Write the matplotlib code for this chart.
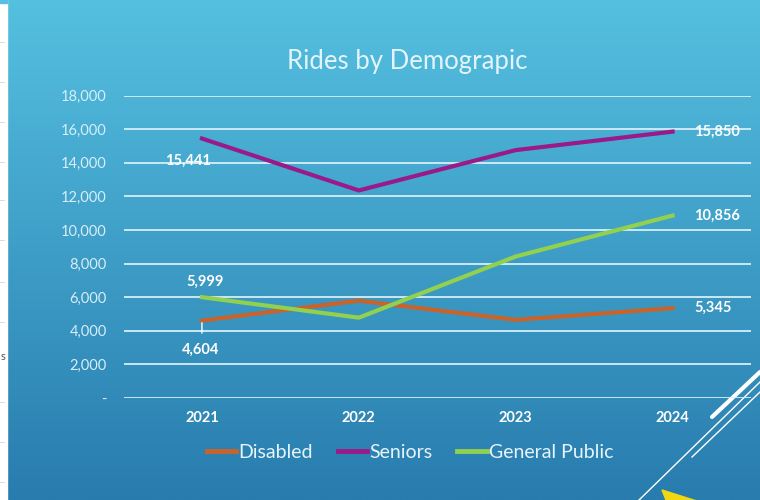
import numpy as np
import matplotlib
matplotlib.use("Agg")
import matplotlib.pyplot as plt
from matplotlib.patches import Polygon, Rectangle

years = ["2021", "2022", "2023", "2024"]
disabled = [4604, 5790, 4650, 5345]
seniors = [15441, 12350, 14750, 15850]
general_public = [5999, 4780, 8420, 10856]
yticks = [0, 2000, 4000, 6000, 8000, 10000, 12000, 14000, 16000, 18000]
ytick_labels = ["-", "2,000", "4,000", "6,000", "8,000", "10,000", "12,000", "14,000", "16,000", "18,000"]
title = "Rides by Demograpic"

plt.rcParams["font.family"] = ["Lato", "DejaVu Sans"]

W, H = 760, 500
fig = plt.figure(figsize=(W / 100, H / 100), dpi=100)

# background gradient
bg = fig.add_axes([0, 0, 1, 1])
top = np.array([0x55, 0xc0, 0xe0]) / 255
bot = np.array([0x28, 0x7c, 0xae]) / 255
t = np.linspace(0, 1, 256)[:, None]
grad = top[None, :] * (1 - t) + bot[None, :] * t
bg.imshow(grad[:, None, :].repeat(2, axis=1), aspect="auto", extent=[0, W, H, 0])
bg.set_xlim(0, W)
bg.set_ylim(H, 0)
bg.axis("off")
# white strip on the left (neighbouring slide)
bg.add_patch(Rectangle((0, 0), 7, H, color="white", zorder=2))
for yy in [42, 82, 122, 162, 200, 240, 282, 322, 402, 442, 482]:
    bg.plot([0, 4], [yy, yy], color="#d5d5d5", lw=0.6, zorder=3)
bg.add_patch(Rectangle((0, 0), 7, 3, color="#55c0e0", zorder=3))
bg.text(0.5, 356, "s", fontsize=8, color="#555555", ha="left", va="center", zorder=4)
# decorative lines bottom right
bg.plot([712, 760], [417, 372], color="white", lw=3, solid_capstyle="round", zorder=3)
bg.plot([692, 760], [457, 392], color="white", lw=1, zorder=3)
bg.plot([637, 760], [502, 382], color="white", lw=1, zorder=3)
bg.add_patch(Polygon([[662, 490], [700, 502], [668, 505]], color="#f2d80f", zorder=3))

# chart axes: x from 123.5 to 751, y from 398 (0) to 96 (18000)
left, right = 123.5, 751
y0, y18 = 398, 95.5
ax = fig.add_axes([left / W, 1 - y0 / H, (right - left) / W, (y0 - y18) / H])
ax.set_facecolor("none")
x = np.arange(len(years))
ax.set_xlim(-0.5, len(years) - 0.5)
ax.set_ylim(0, 18000)
for v in yticks:
    ax.axhline(v, color="#d6eef9", lw=1.3, zorder=1)
ax.plot(x, disabled, color="#c8632b", lw=3, label="Disabled", zorder=3)
ax.plot(x, seniors, color="#9a1a8a", lw=3, label="Seniors", zorder=3)
ax.plot(x, general_public, color="#92d050", lw=3, label="General Public", zorder=3)
for s in ax.spines.values():
    s.set_visible(False)
ax.set_yticks(yticks)
ax.set_yticklabels(ytick_labels, fontsize=10.5, color="#d6eef8")
ax.set_xticks(x)
ax.set_xticklabels(years, fontsize=10.5, color="white", fontweight="bold")
ax.tick_params(length=0)
ax.tick_params(axis="y", pad=12)
ax.tick_params(axis="x", pad=9)

def fmt(v):
    return f"{v:,}"

lab = dict(color="white", fontsize=10.5, fontweight="bold", zorder=4)
ax.annotate(fmt(seniors[0]), (0, seniors[0]), xytext=(-10, -16), textcoords="offset points", ha="center", va="center", **lab)
ax.annotate(fmt(general_public[0]), (0, general_public[0]), xytext=(2, 11), textcoords="offset points", ha="center", va="center", **lab)
ax.annotate(fmt(disabled[0]), (0, disabled[0]), xytext=(-1, -21), textcoords="offset points", ha="center", va="center", **lab)
ax.annotate("", (0, disabled[0]), xytext=(0, -9), textcoords="offset points",
            arrowprops=dict(arrowstyle="-", color="white", lw=1, shrinkA=0, shrinkB=1.5), zorder=4)
ax.annotate(fmt(seniors[3]), (3, seniors[3]), xytext=(32, 0), textcoords="offset points", ha="center", va="center", **lab)
ax.annotate(fmt(general_public[3]), (3, general_public[3]), xytext=(32, 0), textcoords="offset points", ha="center", va="center", **lab)
ax.annotate(fmt(disabled[3]), (3, disabled[3]), xytext=(29, 0), textcoords="offset points", ha="center", va="center", **lab)

leg = fig.legend(loc="center", bbox_to_anchor=(410 / W, 1 - 452 / H), ncol=3, frameon=False,
                 prop=dict(size=14), handlelength=1.5, handletextpad=0.1, columnspacing=1.3,
                 labelcolor="#e6f5fb")
for h in leg.legend_handles:
    h.set_linewidth(3.5)

fig.text(407 / W, 1 - 62 / H, title, ha="center", va="center", fontsize=18.5, color="#e4f4fa")

fig.savefig("out.png", dpi=100)
